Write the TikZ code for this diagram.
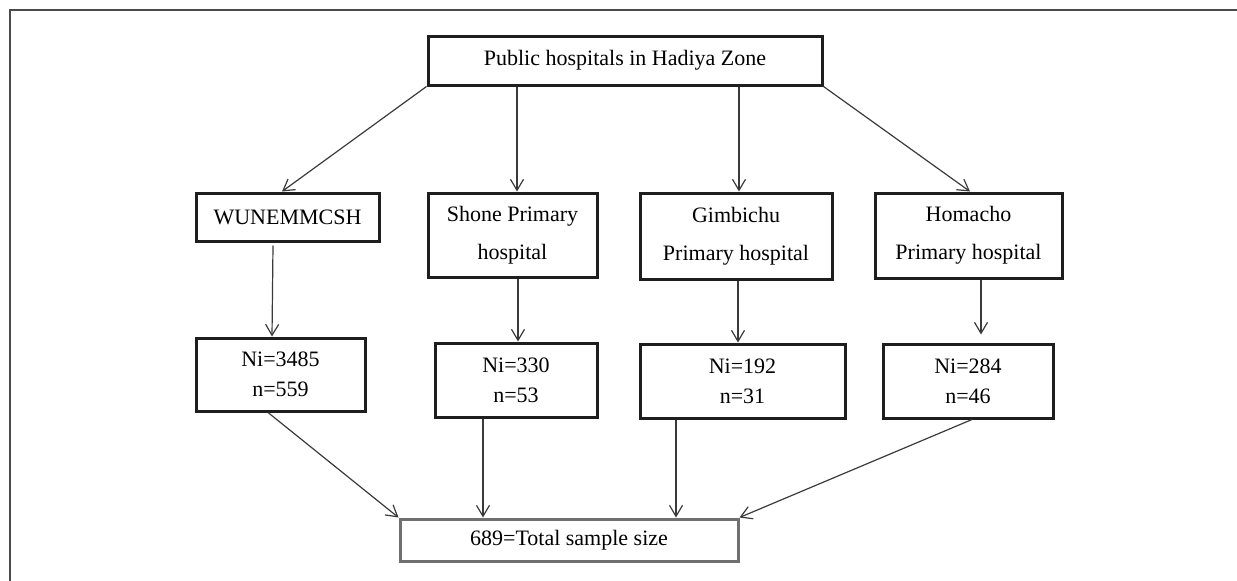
\documentclass[tikz,border=0pt]{standalone}
\usepackage{fontspec}
\setmainfont{Liberation Serif}
\usetikzlibrary{arrows.meta}
\definecolor{boxc}{HTML}{1E1E1E}
\definecolor{arrc}{HTML}{3A3A3A}
\definecolor{totc}{HTML}{707070}
\definecolor{framec}{HTML}{4A4A4A}
\begin{document}
\begin{tikzpicture}[x=1pt,y=-1pt,
  box/.style={draw=boxc,line width=3pt,inner sep=0pt,align=center,font=\fontsize{22}{38}\selectfont},
  nbox/.style={box,font=\fontsize{22}{30}\selectfont},
  tbox/.style={box,draw=totc},
  arr/.style={draw=arrc,line width=1.2pt,-{Straight Barb[length=11pt,width=13pt,line width=1.2pt]}}]
\useasboundingbox (0,0) rectangle (1237,581);
\draw[framec,line width=1.5pt] (1237,10) -- (10,10) -- (10,581);
\node[box,minimum width=394,minimum height=49] (top) at (625,60.5) {Public hospitals in Hadiya Zone};
\node[box,minimum width=183,minimum height=48] (wun) at (287.5,217) {WUNEMMCSH};
\node[box,minimum width=169,minimum height=84] (sho) at (512.5,235) {Shone Primary\\hospital};
\node[box,minimum width=192,minimum height=86] (gim) at (736,236) {Gimbichu\\Primary hospital};
\node[box,minimum width=187,minimum height=85] (hom) at (968.5,235.5) {Homacho\\Primary hospital};
\node[nbox,minimum width=169,minimum height=73] (n1) at (280.5,374.5) {Ni=3485\\n=559};
\node[nbox,minimum width=162,minimum height=74] (n2) at (516,380) {Ni=330\\n=53};
\node[nbox,minimum width=205,minimum height=74] (n3) at (742.5,381) {Ni=192\\n=31};
\node[nbox,minimum width=170,minimum height=74] (n4) at (968,381) {Ni=284\\n=46};
\node[tbox,minimum width=338,minimum height=42] (tot) at (569,540) {689=Total sample size};
% top to hospitals
\draw[arr] (top.south west) -- ([xshift=-5.5pt]wun.north);
\draw[arr] ([xshift=4.5pt]sho.north |- top.south) -- ([xshift=4.5pt]sho.north);
\draw[arr] ([xshift=3pt]gim.north |- top.south) -- ([xshift=3pt]gim.north);
\draw[arr] (top.south east) -- ([xshift=1.5pt]hom.north);
% hospitals to counts
\draw[arr] ([xshift=-14.5pt,yshift=-3pt]wun.south) -- ([xshift=-8.5pt]n1.north);
\draw[arr] ([xshift=5.5pt]sho.south) -- ([xshift=5.5pt]sho.south |- n2.north);
\draw[arr] ([xshift=2pt]gim.south) -- ([xshift=2pt]gim.south |- n3.north);
\draw[arr] ([xshift=12.5pt]hom.south) -- ([xshift=12.5pt,yshift=8pt]hom.south |- n4.north);
% counts to total
\draw[arr] ([xshift=-12.5pt]n1.south) -- (tot.north west);
\draw[arr] ([xshift=-33pt]n2.south) -- ([xshift=-33pt]n2.south |- tot.north);
\draw[arr] ([xshift=-66.5pt]n3.south) -- ([xshift=-66.5pt]n3.south |- tot.north);
\draw[arr] ([xshift=4pt]n4.south) -- (tot.north east);
\end{tikzpicture}
\end{document}
